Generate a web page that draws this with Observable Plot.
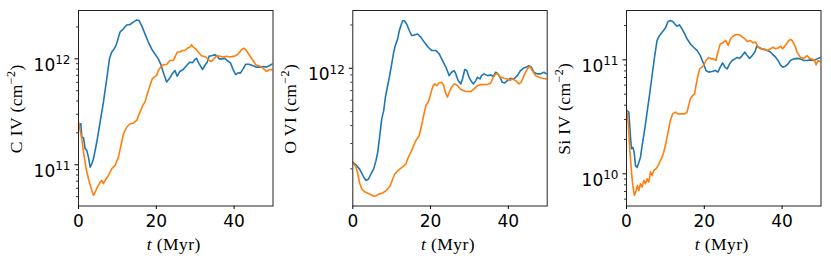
<!DOCTYPE html>
<html><head><meta charset="utf-8">
<script src="https://cdn.jsdelivr.net/npm/d3@7"></script>
<script src="https://cdn.jsdelivr.net/npm/@observablehq/plot@0.6"></script>
<style>
body{margin:0;background:#fff;}
#wrap{position:relative;width:831px;height:260px;overflow:hidden;background:#fff;}
#wrap svg{position:absolute;top:0;}
</style></head><body><div id="wrap"></div>
<script>
// ---- data: [t (Myr), column density (cm^-2)] ----
const runs = ["run 1", "run 2"];
const runColors = ["#1f77b4", "#ff7f0e"];
const xTicks = [0, 20, 40];

const civBlue = [[0,2.35e11],[0.6,2.44e11],[0.85,1.82e11],[1.28,1.80e11],[1.71,1.42e11],[2.14,1.36e11],[2.56,1.18e11],[2.99,9.5e10],[3.42,1.02e11],[3.85,1.14e11],[4.70,1.64e11],[5.56,2.53e11],[6.41,3.90e11],[7.26,6.47e11],[7.95,1.0e12],[8.55,1.16e12],[9.15,1.24e12],[9.66,1.34e12],[10.68,1.79e12],[11.54,1.92e12],[12.39,2.09e12],[13.25,2.11e12],[14.10,2.22e12],[14.96,2.33e12],[15.56,2.30e12],[16.24,2.06e12],[17.09,1.72e12],[17.95,1.44e12],[18.80,1.24e12],[19.66,1.11e12],[20.51,1.0e12],[21.11,8.97e11],[21.79,7.48e11],[22.65,6.03e11],[23.33,6.47e11],[23.93,7.06e11],[24.79,7.76e11],[25.38,6.86e11],[26.07,7.60e11],[26.92,7.93e11],[27.78,8.65e11],[28.63,9.3e11],[29.32,9.2e11],[29.91,9.85e11],[30.34,1.01e12],[31.03,8.97e11],[31.88,7.93e11],[32.48,8.65e11],[33.08,9.3e11],[33.59,1.06e12],[34.19,1.07e12],[35.04,1.09e12],[35.64,1.07e12],[36.15,1.0e12],[36.75,1.0e12],[37.61,1.01e12],[38.21,9.64e11],[39.06,9.17e11],[39.74,7.93e11],[40.43,7.11e11],[41.03,7.38e11],[41.62,7.33e11],[42.31,8.05e11],[42.99,8.9e11],[43.85,8.9e11],[44.70,8.65e11],[45.73,8.35e11],[46.75,8.35e11],[47.61,8.46e11],[48.29,8.35e11],[49.15,8.65e11],[49.83,8.97e11]];
const civOrange = [[0,2.53e11],[0.85,1.76e11],[1.28,1.32e11],[1.97,9.16e10],[2.56,7.38e10],[3.16,6.15e10],[3.85,5.14e10],[4.27,5.52e10],[4.87,6.15e10],[5.56,6.86e10],[5.98,7.11e10],[6.41,6.62e10],[7.09,7.38e10],[7.69,7.93e10],[8.55,9.16e10],[9.40,9.86e10],[10.26,1.18e11],[11.11,1.64e11],[11.54,1.96e11],[12.39,2.26e11],[13.25,2.44e11],[14.10,2.47e11],[14.96,2.62e11],[15.81,3.14e11],[16.50,3.63e11],[17.09,3.9e11],[17.69,4.68e11],[18.38,5.6e11],[18.97,6.47e11],[19.40,6.71e11],[20.09,6.97e11],[20.51,7.76e11],[21.11,8.35e11],[21.79,8.78e11],[22.65,8.84e11],[23.50,9.64e11],[24.36,9.64e11],[24.79,1.04e12],[25.38,1.16e12],[26.07,1.16e12],[26.75,1.20e12],[27.35,1.20e12],[27.95,1.26e12],[28.63,1.29e12],[29.06,1.36e12],[29.49,1.29e12],[30.17,1.24e12],[30.77,1.16e12],[31.62,1.07e12],[32.74,1.04e12],[33.59,9.64e11],[34.19,9.43e11],[34.62,9.86e11],[35.47,1.06e12],[36.32,1.06e12],[37.18,1.04e12],[38.03,1.06e12],[38.89,1.04e12],[40.17,1.06e12],[41.03,1.11e12],[41.88,1.22e12],[42.48,1.26e12],[43.16,1.20e12],[44.02,1.07e12],[44.87,9.64e11],[45.56,8.78e11],[46.15,8.65e11],[46.75,8.5e11],[47.44,8.17e11],[48.29,7.6e11],[49.15,7.93e11],[49.83,7.87e11]];

const oviBlue = [[0,2.22e11],[0.85,2.13e11],[1.71,2.0e11],[2.82,1.75e11],[3.42,1.66e11],[4.02,1.70e11],[4.70,1.85e11],[5.38,2.0e11],[5.98,2.29e11],[6.41,2.61e11],[6.84,3.23e11],[7.44,4.45e11],[7.95,5.08e11],[8.38,6.29e11],[8.97,7.59e11],[9.40,8.66e11],[10.0,1.07e12],[10.51,1.29e12],[10.94,1.44e12],[11.54,1.60e12],[11.97,1.83e12],[12.39,1.98e12],[12.82,2.14e12],[13.25,2.14e12],[13.85,2.03e12],[14.53,1.83e12],[15.13,1.69e12],[15.81,1.70e12],[16.67,1.73e12],[17.52,1.64e12],[18.38,1.52e12],[19.40,1.40e12],[20.26,1.33e12],[21.37,1.33e12],[22.22,1.26e12],[23.08,1.13e12],[23.93,1.02e12],[24.79,8.89e11],[25.38,9.38e11],[26.07,9.64e11],[26.50,9.14e11],[27.09,8.21e11],[27.78,7.79e11],[28.21,8.43e11],[28.80,9.8e11],[29.32,9.64e11],[29.91,8.66e11],[30.51,8.08e11],[31.03,7.79e11],[31.62,8.21e11],[32.05,8.66e11],[32.74,8.43e11],[33.08,8.89e11],[33.76,9.14e11],[34.62,8.89e11],[35.47,8.99e11],[36.15,8.79e11],[36.75,9.38e11],[37.35,9.14e11],[37.86,8.66e11],[38.46,7.99e11],[39.06,7.91e11],[39.74,8.21e11],[40.60,8.52e11],[41.45,8.43e11],[42.31,8.89e11],[43.16,9.64e11],[43.85,1.0e12],[44.70,1.02e12],[45.30,1.04e12],[45.90,1.02e12],[46.58,9.38e11],[47.44,9.14e11],[48.29,9.14e11],[49.15,9.38e11],[49.83,9.14e11]];
const oviOrange = [[0,2.22e11],[0.85,2.05e11],[1.28,1.85e11],[1.71,1.61e11],[2.31,1.45e11],[3.16,1.38e11],[4.27,1.34e11],[5.38,1.29e11],[5.98,1.30e11],[6.84,1.34e11],[7.69,1.36e11],[8.55,1.41e11],[9.15,1.47e11],[9.66,1.53e11],[10.26,1.70e11],[10.85,1.85e11],[11.71,1.95e11],[12.39,2.02e11],[13.08,2.09e11],[13.68,2.17e11],[14.10,2.35e11],[14.96,2.61e11],[15.64,2.90e11],[16.24,3.15e11],[17.09,3.41e11],[17.69,4.0e11],[18.21,4.69e11],[18.80,5.51e11],[19.40,5.81e11],[19.91,6.46e11],[20.26,7.0e11],[20.68,7.58e11],[21.11,7.79e11],[21.62,7.58e11],[22.22,7.92e11],[22.82,8.0e11],[23.33,7.66e11],[23.93,6.64e11],[24.36,6.29e11],[24.79,6.81e11],[25.38,7.38e11],[26.07,7.79e11],[26.92,7.58e11],[27.78,7.11e11],[29.06,6.89e11],[30.34,6.89e11],[31.20,7.19e11],[32.05,7.58e11],[32.91,7.7e11],[34.62,7.72e11],[35.47,7.91e11],[36.15,8.66e11],[36.75,9.14e11],[37.35,9.14e11],[38.03,8.66e11],[38.89,8.52e11],[39.74,8.43e11],[40.43,8.21e11],[41.03,8.43e11],[41.88,8.21e11],[42.74,7.79e11],[43.33,8.0e11],[44.02,8.89e11],[44.87,9.89e11],[45.56,1.03e12],[46.15,9.64e11],[47.01,8.89e11],[47.86,8.66e11],[48.72,8.52e11],[49.83,8.43e11]];

const siivBlue = [[0,3.60e10],[0.6,3.48e10],[1.03,2.10e10],[1.28,1.66e10],[1.62,1.71e10],[1.97,1.55e10],[2.31,1.18e10],[2.74,1.14e10],[3.16,1.26e10],[3.59,1.40e10],[4.02,1.77e10],[4.70,2.48e10],[5.30,3.48e10],[5.90,4.86e10],[6.58,7.29e10],[7.26,1.09e11],[7.86,1.48e11],[8.46,1.63e11],[9.15,1.75e11],[10.0,1.90e11],[10.68,2.17e11],[11.28,2.21e11],[11.88,2.17e11],[12.39,2.07e11],[12.99,1.97e11],[13.59,2.03e11],[14.27,1.87e11],[14.96,1.69e11],[15.56,1.53e11],[16.41,1.38e11],[17.26,1.29e11],[18.12,1.21e11],[18.97,1.09e11],[19.83,9.23e10],[20.43,8.06e10],[21.11,7.80e10],[21.97,7.9e10],[22.82,8.06e10],[23.50,7.8e10],[24.10,8.63e10],[24.70,9.41e10],[25.30,8.63e10],[25.90,8.34e10],[26.50,9.23e10],[27.18,9.87e10],[27.86,1.02e11],[28.46,1.05e11],[29.06,1.03e11],[29.74,1.09e11],[30.43,1.17e11],[31.03,1.09e11],[31.62,1.03e11],[32.31,1.09e11],[32.99,1.17e11],[33.50,1.32e11],[34.02,1.29e11],[34.70,1.25e11],[35.56,1.23e11],[36.15,1.21e11],[37.01,1.17e11],[37.61,1.11e11],[38.29,1.06e11],[38.97,9.87e10],[39.57,9.04e10],[40.17,8.63e10],[40.85,8.80e10],[41.54,9.23e10],[42.14,9.87e10],[42.99,1.02e11],[43.85,1.03e11],[44.70,1.02e11],[45.56,9.87e10],[46.41,9.87e10],[47.26,1.0e11],[48.12,9.87e10],[48.97,1.02e11],[49.83,1.05e11]];
const siivOrange = [[0,3.72e10],[0.43,2.84e10],[0.77,1.77e10],[1.28,1.04e10],[1.62,7.91e9],[2.05,6.46e9],[2.48,7.14e9],[2.82,7.91e9],[3.16,7.14e9],[3.59,8.17e9],[4.02,7.64e9],[4.44,8.75e9],[4.87,8.17e9],[5.30,9.04e9],[5.73,8.45e9],[6.15,1.04e10],[6.58,9.66e9],[7.01,1.07e10],[7.61,1.11e10],[8.12,1.18e10],[8.72,1.31e10],[9.15,1.40e10],[9.57,1.55e10],[10.0,1.77e10],[10.43,2.10e10],[10.85,2.48e10],[11.28,2.94e10],[11.88,3.36e10],[12.56,3.48e10],[13.25,3.36e10],[14.10,3.36e10],[14.96,3.36e10],[15.56,3.48e10],[15.98,3.97e10],[16.41,4.55e10],[17.01,4.86e10],[17.52,5.03e10],[17.86,5.95e10],[18.38,7.29e10],[18.80,8.34e10],[19.40,8.63e10],[19.83,8.92e10],[20.43,9.87e10],[21.11,1.05e11],[21.79,1.02e11],[22.39,1.02e11],[22.99,9.87e10],[23.50,1.17e11],[24.10,1.38e11],[24.79,1.41e11],[25.47,1.48e11],[26.15,1.34e11],[26.75,1.53e11],[27.35,1.61e11],[28.03,1.66e11],[28.89,1.66e11],[29.57,1.61e11],[30.43,1.53e11],[31.03,1.45e11],[31.88,1.48e11],[32.48,1.41e11],[33.16,1.43e11],[33.85,1.29e11],[34.44,1.25e11],[35.30,1.25e11],[36.15,1.21e11],[37.01,1.25e11],[37.61,1.29e11],[38.29,1.25e11],[38.97,1.27e11],[39.57,1.32e11],[40.17,1.25e11],[40.85,1.34e11],[41.54,1.45e11],[42.14,1.51e11],[42.56,1.48e11],[43.25,1.34e11],[43.85,1.17e11],[44.70,1.05e11],[45.56,1.03e11],[46.41,1.09e11],[47.01,1.03e11],[47.69,1.02e11],[48.38,9.87e10],[48.72,9.04e10],[49.23,9.87e10],[49.83,9.66e10]];

// tick values
const civMajor = [1e11, 1e12];
const civMinor = [5e10,6e10,7e10,8e10,9e10,2e11,3e11,4e11,5e11,6e11,7e11,8e11,9e11,2e12];
const oviMajor = [1e12];
const oviMinor = [2e11,3e11,4e11,5e11,6e11,7e11,8e11,9e11,2e12];
const siivMajor = [1e10, 1e11];
const siivMinor = [6e9,7e9,8e9,9e9,2e10,3e10,4e10,5e10,6e10,7e10,8e10,9e10,2e11];

const panels = [
  {ion: "C IV", left: 0, width: 280, ml: 78, mr: 7.5, domain: [4.08e10, 2.86e12], major: civMajor, minor: civMinor, series: [civBlue, civOrange]},
  {ion: "O VI", left: 262, width: 293, ml: 90.3, mr: 8.3, domain: [1.104e11, 2.52e12], major: oviMajor, minor: oviMinor, series: [oviBlue, oviOrange]},
  {ion: "Si IV", left: 537, width: 294, ml: 89, mr: 10.5, domain: [5.22e9, 2.71e11], major: siivMajor, minor: siivMinor, series: [siivBlue, siivOrange]}
];

const NS = "http://www.w3.org/2000/svg";
const wrap = document.getElementById("wrap");
const serif = "'Liberation Serif', 'Times New Roman', serif";

for (const p of panels) {
  const rows = p.series.flatMap((s, i) => s.map(([t, v]) => ({t, v, run: runs[i]})));
  const H = 260, mt = 10, mb = 54.5;
  const svg = Plot.plot({
    width: p.width, height: H,
    marginLeft: p.ml, marginRight: p.mr, marginTop: mt, marginBottom: mb,
    style: {fontFamily: "'DejaVu Sans', sans-serif", fontSize: "17px", background: "transparent", color: "black"},
    x: {domain: [0, 50]},
    y: {type: "log", domain: p.domain},
    color: {domain: runs, range: runColors},
    marks: [
      Plot.line(rows, {x: "t", y: "v", z: "run", stroke: "run", strokeWidth: 1.6, clip: true}),
      Plot.axisX(xTicks, {tickSize: 3.5, tickPadding: 5, label: null}),
      Plot.axisY(p.minor, {tickSize: 2, tickFormat: () => "", label: null, strokeWidth: 0.8}),
      Plot.axisY(p.major, {tickSize: 3.5, tickPadding: 4.5, label: null, tickFormat: d => "10^" + Math.round(Math.log10(d))}),
      Plot.frame({stroke: "#222", strokeWidth: 1})
    ]
  });
  svg.style.left = p.left + "px";
  // superscript exponents on y tick labels
  svg.querySelectorAll('[aria-label="y-axis tick label"] text').forEach(t => {
    const s = t.textContent;
    if (!s.includes("^")) return;
    const [b, e] = s.split("^");
    t.textContent = b;
    t.setAttribute("dy", "0.39em");
    const ts = document.createElementNS(NS, "tspan");
    ts.setAttribute("dy", "-6.7");
    ts.setAttribute("font-size", "12px");
    ts.textContent = e;
    t.appendChild(ts);
  });
  const fw = p.width - p.ml - p.mr;
  // x label
  const xl = document.createElementNS(NS, "text");
  xl.setAttribute("x", p.ml + fw / 2 - 1.5);
  xl.setAttribute("y", 249.5);
  xl.setAttribute("text-anchor", "middle");
  xl.setAttribute("font-family", serif);
  xl.setAttribute("font-size", "17.5px");
  xl.setAttribute("letter-spacing", "0.4px");
  xl.style.whiteSpace = "pre";
  const ti = document.createElementNS(NS, "tspan");
  ti.setAttribute("font-style", "italic");
  ti.textContent = "t";
  xl.appendChild(ti);
  xl.appendChild(document.createTextNode(" (Myr)"));
  svg.appendChild(xl);
  // y label
  const yl = document.createElementNS(NS, "text");
  const cy = mt + (H - mt - mb) / 2 + 1;
  yl.setAttribute("transform", `translate(${p.ml - 56.5},${cy}) rotate(-90)`);
  yl.setAttribute("text-anchor", "middle");
  yl.setAttribute("font-family", serif);
  yl.setAttribute("font-size", "17.5px");
  yl.setAttribute("letter-spacing", "0.4px");
  yl.style.whiteSpace = "pre";
  yl.appendChild(document.createTextNode(p.ion + " (cm"));
  const sup = document.createElementNS(NS, "tspan");
  sup.setAttribute("dy", "-7");
  sup.setAttribute("font-size", "12px");
  sup.textContent = "\u22122";
  yl.appendChild(sup);
  const cl = document.createElementNS(NS, "tspan");
  cl.setAttribute("dy", "7");
  cl.textContent = ")";
  yl.appendChild(cl);
  svg.appendChild(yl);
  wrap.appendChild(svg);
}
</script>
</body></html>
